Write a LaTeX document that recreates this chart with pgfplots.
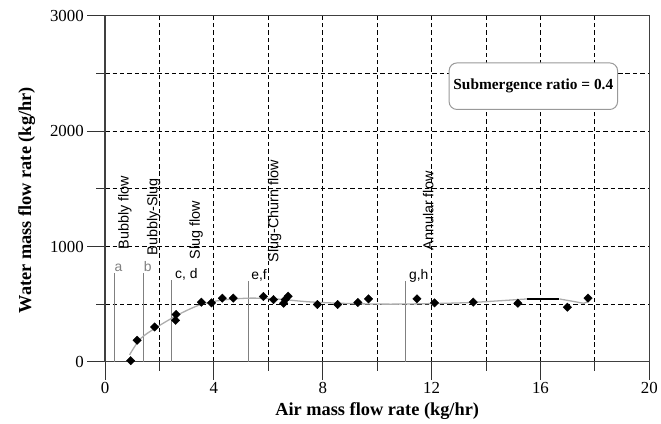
\documentclass[border=0pt]{standalone}
\usepackage{fontspec}
\setmainfont{Liberation Serif}
\newfontfamily\arial{Liberation Sans}
\usepackage{pgfplots}
\pgfplotsset{compat=1.18}

\begin{document}
\begin{tikzpicture}
\begin{axis}[
 at={(0,0)}, anchor=south west,
 scale only axis, width=549pt, height=349pt,
 xmin=0,xmax=20,ymin=0,ymax=3000,
 xtick={0,4,...,20}, ytick={0,1000,2000,3000},
 minor x tick num=1, minor y tick num=1,
 grid=both,
 major grid style={black, line width=1pt, dash pattern=on 4.5pt off 3pt},
 minor grid style={black, line width=1pt, dash pattern=on 4.5pt off 3pt},
 tick align=outside, tick pos=left,
 major tick length=18pt, minor tick length=9pt,
 every tick/.style={line width=0.9pt, black!80},
 axis line style={line width=1.3pt, black!75},
 ticklabel style={font=\fontsize{17}{17}\selectfont},
 xticklabel style={yshift=1pt},
 /pgf/number format/assume math mode=true,
 /pgf/number format/1000 sep={},
 scaled ticks=false,
 xlabel={Air mass flow rate (kg/hr)}, ylabel={Water mass flow rate (kg/hr)},
 label style={font=\bfseries\fontsize{18.5}{18.5}\selectfont},
 xlabel style={at={(axis description cs:0.5,-0.143)}, anchor=center},
 ylabel style={at={(axis description cs:-0.144,0.467)}, anchor=center},
 clip=false,
]
% regime marker lines
\addplot[gray, line width=0.8pt] coordinates {(0.33,0)(0.33,770)};
\addplot[gray, line width=0.8pt] coordinates {(1.40,0)(1.40,770)};
\addplot[gray, line width=0.8pt] coordinates {(2.45,0)(2.45,712)};
\addplot[gray, line width=0.8pt] coordinates {(5.28,0)(5.28,705)};
\addplot[gray, line width=0.8pt] coordinates {(11.05,0)(11.05,705)};
% fitted curve
\addplot[smooth, gray!65, line width=1.3pt] coordinates {(0.9,60)(1.3,200)(1.9,300)(2.7,410)(3.5,495)(4.3,535)(5.3,552)(6.3,545)(7.5,520)(9,505)(10.5,500)(12,505)(13.5,515)(15.5,545)};
\addplot[black, line width=1.2pt] coordinates {(15.5,545)(16.7,545)};
\addplot[smooth, gray!65, line width=1.3pt] coordinates {(16.7,545)(17.3,520)(17.6,508)(17.75,525)};
% data
\addplot[only marks, mark=square*, mark size=3pt, mark options={rotate=45}, black] coordinates {
(0.94,10)(1.18,187)(1.82,302)(2.61,411)(2.59,360)(3.54,517)(3.91,511)(4.31,552)(4.71,552)(5.82,566)(6.19,540)(6.56,508)(6.73,569)(6.62,540)(7.80,497)(8.55,497)(9.29,515)(9.68,546)(11.46,546)(12.11,511)(13.53,517)(15.17,508)(16.99,474)(17.75,552)};
% letter labels
\node[anchor=base west, gray, font=\arial\fontsize{14}{14}\selectfont, inner sep=0.5pt] at (axis cs:0.33,780) {a};
\node[anchor=base west, gray, font=\arial\fontsize{14}{14}\selectfont, inner sep=0.5pt] at (axis cs:1.40,780) {b};
\node[anchor=base west, font=\arial\fontsize{14}{14}\selectfont, inner sep=0.5pt] at (axis cs:2.55,720) {c, d};
\node[anchor=base west, font=\arial\fontsize{14}{14}\selectfont, inner sep=0.5pt] at (axis cs:5.35,715) {e,f};
\node[anchor=base west, font=\arial\fontsize{14}{14}\selectfont, inner sep=0.5pt] at (axis cs:11.15,715) {g,h};
% regime names
\node[rotate=90, anchor=west, font=\arial\fontsize{14.5}{14.5}\selectfont, inner sep=0pt] at (axis cs:0.73,972) {Bubbly flow};
\node[rotate=90, anchor=west, font=\arial\fontsize{14.5}{14.5}\selectfont, inner sep=0pt] at (axis cs:1.79,920) {Bubbly-Slug};
\node[rotate=90, anchor=west, font=\arial\fontsize{14.5}{14.5}\selectfont, inner sep=0pt] at (axis cs:3.35,886) {Slug flow};
\node[rotate=90, anchor=west, font=\arial\fontsize{14.5}{14.5}\selectfont, inner sep=0pt] at (axis cs:6.23,860) {Slug-Churn flow};
\node[rotate=90, anchor=west, font=\arial\fontsize{14.5}{14.5}\selectfont, inner sep=0pt] at (axis cs:11.88,963) {Annular flow};
% box
\node[draw=gray!80, rounded corners=8pt, fill=white, minimum width=170pt, minimum height=47pt, line width=1pt, font=\bfseries\fontsize{15.5}{15.5}\selectfont] at (axis cs:15.74,2390) {Submergence ratio = 0.4};
\end{axis}
\path[use as bounding box] (-106pt,-60pt) rectangle (555pt,365pt);
\end{tikzpicture}
\end{document}
